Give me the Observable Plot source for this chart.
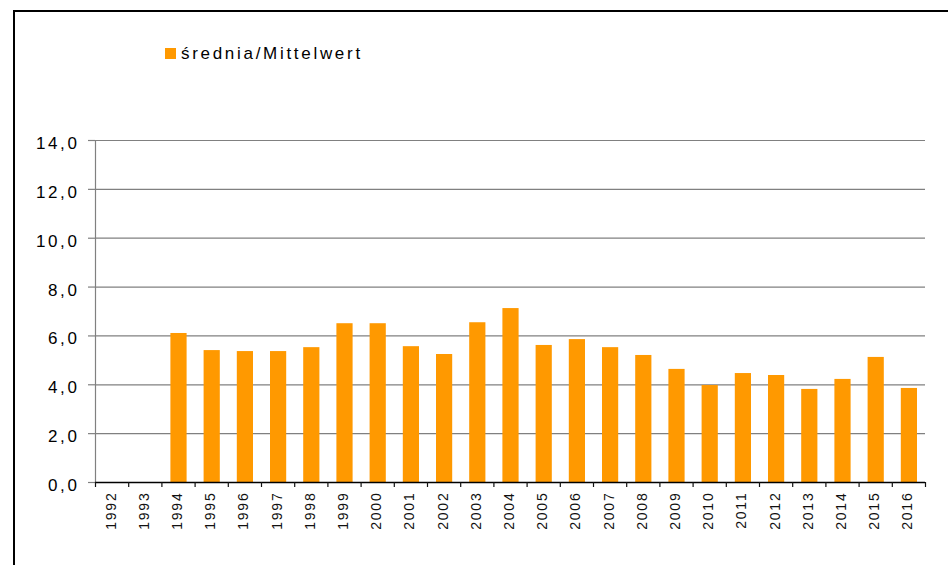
<!DOCTYPE html>
<html>
<head>
<meta charset="utf-8">
<script src="https://cdn.jsdelivr.net/npm/d3@7"></script>
<script src="https://cdn.jsdelivr.net/npm/@observablehq/plot@0.6"></script>
<style>
  html, body { margin: 0; padding: 0; background: #fff; }
  #wrap { position: relative; width: 948px; height: 565px; overflow: hidden; font-family: "Liberation Sans", Arial, sans-serif; }
  #frame { position: absolute; left: 13px; top: 10px; width: 960px; height: 600px; border-top: 2px solid #000; border-left: 2px solid #000; pointer-events: none; }
  #legend { position: relative; height: 100px; }
  #legend .sw { position: absolute; left: 165px; top: 48px; width: 11px; height: 11px; background: #FF9900; }
  #legend .lb { position: absolute; left: 181px; top: 44px; font-size: 17px; line-height: 20px; letter-spacing: 2.7px; color: #000; }
</style>
</head>
<body>
<div id="wrap">
  <div id="legend"><div class="sw"></div><div class="lb">średnia/Mittelwert</div></div>
  <div id="chart"></div>
  <div id="frame"></div>
</div>
<script>
const years = ["1992","1993","1994","1995","1996","1997","1998","1999","2000","2001","2002","2003","2004","2005","2006","2007","2008","2009","2010","2011","2012","2013","2014","2015","2016"];
const values = [null, null, 6.1, 5.4, 5.36, 5.36, 5.52, 6.5, 6.5, 5.56, 5.24, 6.54, 7.12, 5.61, 5.85, 5.52, 5.2, 4.63, 3.97, 4.46, 4.38, 3.81, 4.22, 5.12, 3.85];
const yTicks = [0, 2, 4, 6, 8, 10, 12, 14];
const seriesName = "średnia/Mittelwert";

const data = years.map((year, i) => ({year, i, value: values[i]}));
const bars = data.filter(d => d.value != null);
const fmt = v => v.toFixed(1).replace(".", ",");
const boundaries = d3.range(years.length + 1);

const plot = Plot.plot({
  width: 948,
  height: 465,
  marginTop: 40,
  marginBottom: 83,
  marginLeft: 95,
  marginRight: 23,
  style: {fontFamily: "'Liberation Sans', Arial, sans-serif", background: "transparent", overflow: "visible"},
  x: {type: "linear", domain: [0, years.length], axis: null},
  y: {domain: [0, 14], axis: null},
  marks: [
    Plot.ruleY(yTicks.filter(d => d > 0), {y: d => d, stroke: "#808080", strokeWidth: 1.2}),
    Plot.ruleY(yTicks, {y: d => d, x1: 0, x2: 0, insetLeft: -7, stroke: "#808080", strokeWidth: 1.2}),
    Plot.ruleX([0], {x: d => d, stroke: "#808080", strokeWidth: 1.2}),
    Plot.rectY(bars, {x1: d => d.i, x2: d => d.i + 1, y: "value", insetLeft: 9, insetRight: 8, fill: "#FF9900"}),
    Plot.ruleY([0], {y: d => d, stroke: "#000", strokeWidth: 1.5}),
    Plot.ruleX(boundaries, {x: d => d, y1: 0, y2: 0, insetBottom: -5, stroke: "#111", strokeWidth: 1.2}),
    Plot.text(yTicks, {y: d => d, frameAnchor: "left", text: fmt, textAnchor: "end", dx: -16, dy: 3, fontSize: 17, fill: "#000"}),
    Plot.text(data, {x: d => d.i + 0.5, frameAnchor: "bottom", text: "year", rotate: -90, textAnchor: "end", lineAnchor: "middle", dx: -1, dy: 9, fontSize: 14, fill: "#111"})
  ]
});
document.getElementById("chart").appendChild(plot);
// letter spacing for the wide-set labels (last two mark groups)
const groups = Array.from(plot.children).filter(n => n.tagName.toLowerCase() === "g");
const xg = groups[groups.length - 1], yg = groups[groups.length - 2];
xg.querySelectorAll("text").forEach(t => t.style.letterSpacing = "1.8px");
yg.querySelectorAll("text").forEach(t => t.style.letterSpacing = "2.6px");
</script>
</body>
</html>
